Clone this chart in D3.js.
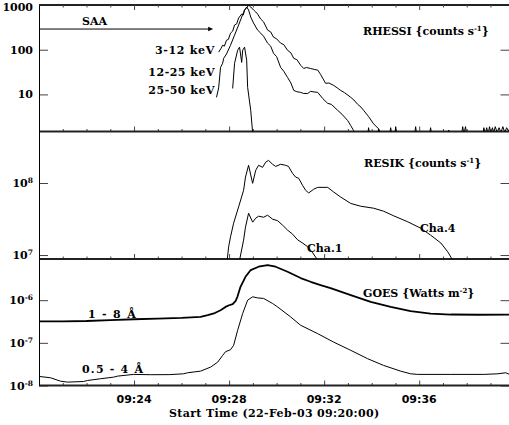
<!DOCTYPE html>
<html>
<head>
<meta charset="utf-8">
<script src="https://cdn.jsdelivr.net/npm/d3@7"></script>
<style>
  body { margin: 0; background: #fff; }
  text { font-family: "DejaVu Serif", serif; font-weight: bold; fill: #000; }
</style>
</head>
<body>
<script>
// time is minutes after 09:20:00
var minutesMax = 19.8;
var xTickMinutes = [4, 8, 12, 16];
var xTickLabels = ["09:24", "09:28", "09:32", "09:36"];
var xMinorMinutes = [1, 2, 3, 5, 6, 7, 9, 10, 11, 13, 14, 15, 17, 18, 19];
var xTitle = "Start Time (22-Feb-03 09:20:00)";

// RHESSI counts s-1
var rhessiTicks = [10, 100, 1000];
var rhessiTickLabels = ["10", "100", "1000"];
var saaEnd = 7.33, saaLevel = 290;

var rhessiLoT = [7.56, 7.65, 7.73, 7.8, 7.89, 7.97, 8.06, 8.15, 8.23, 8.32, 8.4, 8.53, 8.6, 8.65, 8.74, 8.82,
  8.91, 9.03, 9.12, 9.2, 9.33, 9.45, 9.62, 9.75, 9.87, 10.0, 10.17, 10.3, 10.46, 10.6, 10.72, 10.85, 11.01,
  11.14, 11.25, 11.43, 11.6, 11.73, 11.85, 11.94, 12.06, 12.2, 12.4, 12.55, 12.69, 12.85, 13.12, 13.25,
  13.41, 13.55, 13.66, 13.87, 14.08, 14.29, 14.42, 14.75, 14.8, 14.85, 14.97, 15.01, 15.06, 15.8, 15.85,
  15.9, 16.43, 16.48, 16.53, 17.19, 17.24, 17.29, 17.78, 17.83, 17.88, 17.95, 18.0, 18.68, 18.72, 18.78,
  18.84, 18.9, 18.96, 19.02, 19.08, 19.14, 19.2, 19.28, 19.36, 19.44, 19.52, 19.6, 19.68, 19.76, 19.8];
var rhessiLo = [88, 105, 126, 120, 163, 170, 235, 260, 356, 380, 511, 628, 600, 773, 857, 1000,
  902, 773, 700, 628, 485, 420, 274, 250, 191, 175, 140, 130, 97, 85, 64, 60, 45,
  38, 40, 38, 36, 35, 28, 23, 17.7, 18, 15.9, 14, 12.3, 11, 8.6, 7.5,
  6.0, 5.2, 4.4, 3.2, 2.2, 1.7, 1.2, 1.2, 1.8, 1.2, 1.2, 1.9, 1.2, 1.2, 1.9,
  1.2, 1.2, 1.8, 1.2, 1.2, 1.6, 1.2, 1.2, 1.9, 1.3, 1.9, 1.2, 1.2, 1.8, 1.3,
  1.8, 1.3, 1.9, 1.3, 1.8, 1.4, 1.9, 1.4, 1.8, 1.4, 1.9, 1.4, 1.8, 1.5, 1.7];

var rhessiMidT = [7.47, 7.56, 7.64, 7.73, 7.77, 7.89, 8.06, 8.23, 8.4, 8.53, 8.65, 8.74, 8.82, 8.91, 9.03,
  9.2, 9.33, 9.45, 9.62, 9.75, 9.87, 10.0, 10.17, 10.3, 10.46, 10.6, 10.72, 10.85, 11.01, 11.14, 11.31,
  11.43, 11.6, 11.73, 11.94, 12.15, 12.3, 12.57, 12.75, 12.99, 13.12, 13.24, 13.3, 13.83, 13.87, 13.92,
  14.25, 14.29, 14.34, 15.0];
var rhessiMid = [8.6, 14, 40, 50, 64, 80, 126, 212, 356, 537, 773, 902, 773, 537, 394,
  274, 235, 200, 140, 120, 83, 70, 40, 33, 24, 18, 12.3, 11.5, 11.1, 10.5, 10.5,
  11.7, 11.3, 11.1, 8.1, 6.3, 6.0, 4.4, 3.6, 2.6, 2.0, 1.55, 1.2, 1.2, 1.8, 1.2,
  1.2, 1.7, 1.2, 1.2];

var rhessiHiT = [8.15, 8.23, 8.36, 8.44, 8.53, 8.57, 8.65, 8.74, 8.78, 8.91, 8.99];
var rhessiHi = [13.6, 49.8, 97, 114, 52, 97, 114, 58, 14.4, 4.4, 1.4];

// RESIK counts s-1
var resikTicks = [1e7, 1e8];
var resikTickExp = ["7", "8"];
var cha4T = [7.92, 7.98, 8.06, 8.19, 8.4, 8.61, 8.69, 8.82, 8.99, 9.12, 9.24, 9.41, 9.54, 9.66, 9.83, 9.96,
  10.17, 10.38, 10.5, 10.67, 10.8, 10.93, 11.09, 11.22, 11.35, 11.56, 11.73, 12.15, 12.4, 12.69, 13.12,
  13.54, 14.08, 14.5, 14.93, 15.52, 16.06, 16.48, 16.91, 17.2, 17.41];
var cha4 = [8.5e6, 1.3e7, 1.79e7, 2.77e7, 4.66e7, 7.93e7, 1.21e8, 1.76e8, 9.9e7, 1.5e8, 1.76e8, 1.65e8,
  1.95e8, 2.06e8, 1.82e8, 1.7e8, 1.82e8, 1.76e8, 1.7e8, 1.36e8, 1.21e8, 1.16e8, 9.3e7, 7.93e7, 7.28e7,
  8.2e7, 8.7e7, 8.7e7, 7.5e7, 6.4e7, 5.2e7, 4.76e7, 4.47e7, 4.06e7, 3.5e7, 2.89e7, 2.36e7, 1.89e7,
  1.47e7, 1.11e7, 8.5e6];
var cha1T = [8.44, 8.61, 8.69, 8.82, 8.99, 9.12, 9.24, 9.45, 9.62, 9.83, 10.04, 10.25, 10.46, 10.67,
  10.88, 11.09, 11.31, 11.52, 11.73];
var cha1 = [8.5e6, 1.61e7, 2.44e7, 3.81e7, 2.86e7, 3.25e7, 3.46e7, 3.35e7, 3.57e7, 3.15e7, 3.0e7,
  2.6e7, 2.22e7, 1.95e7, 1.63e7, 1.47e7, 1.3e7, 1.07e7, 8.5e6];

// GOES Watts m-2
var goesTicks = [1e-8, 1e-7, 1e-6];
var goesTickExp = ["-8", "-7", "-6"];
var goesLongT = [0, 1, 2, 3, 4, 5, 6, 6.8, 7.1, 7.4, 7.64, 7.85, 8.0, 8.15, 8.27, 8.35, 8.48, 8.69, 8.91,
  9.24, 9.62, 9.96, 10.46, 11.01, 11.43, 11.85, 12.27, 13.12, 13.96, 14.8, 15.64, 16.48, 17.33, 18.5, 19.8];
var goesLong = [3.2e-7, 3.2e-7, 3.25e-7, 3.4e-7, 3.57e-7, 3.7e-7, 3.84e-7, 4.05e-7, 4.44e-7, 5.0e-7,
  5.82e-7, 6.95e-7, 7.6e-7, 8.05e-7, 9.5e-7, 1.2e-6, 2.06e-6, 3.53e-6, 5.08e-6, 6.08e-6, 6.67e-6,
  6.08e-6, 4.63e-6, 3.3e-6, 2.7e-6, 2.25e-6, 1.92e-6, 1.31e-6, 9.12e-7, 6.95e-7, 5.51e-7, 4.86e-7,
  4.61e-7, 4.55e-7, 4.6e-7];
var goesShortT = [0, 0.48, 0.91, 1.2, 1.87, 2.04, 2.59, 3.14, 3.31, 3.98, 4.69, 5.5, 6.08, 6.25, 6.8, 7.22,
  7.52, 7.73, 7.85, 8.06, 8.19, 8.36, 8.57, 8.78, 8.99, 9.2, 9.45, 9.83, 10.04, 10.59, 11.01, 11.73, 12.4,
  13.12, 13.83, 14.5, 15.22, 15.64, 15.94, 17.33, 18.72, 19.31, 19.64, 19.8];
var goesShort = [1.63e-8, 1.52e-8, 1.26e-8, 1.2e-8, 1.24e-8, 1.31e-8, 1.44e-8, 1.57e-8, 1.66e-8, 1.82e-8,
  1.79e-8, 1.8e-8, 1.88e-8, 1.99e-8, 2.17e-8, 2.7e-8, 3.53e-8, 5.08e-8, 6.2e-8, 6.9e-8, 8.73e-8, 1.97e-7,
  4.86e-7, 1.0e-6, 1.2e-6, 1.13e-6, 1.1e-6, 8.36e-7, 6.95e-7, 4.05e-7, 2.58e-7, 1.64e-7, 1.04e-7, 6.67e-8,
  4.25e-8, 2.96e-8, 2.17e-8, 1.88e-8, 1.82e-8, 1.82e-8, 1.82e-8, 1.88e-8, 1.99e-8, 1.82e-8];

var W = 509, H = 425;
var L = 39, R = 509.5;

var svg = d3.select("body").append("svg")
    .attr("width", W)
    .attr("height", H);

var x = d3.scaleLinear().domain([0, minutesMax]).range([L, R]);

function makePanel(id, top, bottom, domain, ticks) {
  var y = d3.scaleLog().domain(domain).range([bottom, top]);

  svg.append("clipPath").attr("id", id)
    .append("rect")
    .attr("x", L).attr("y", top)
    .attr("width", R - L).attr("height", bottom - top);

  // y ticks, both sides, pointing in
  var gl = svg.append("g").attr("transform", "translate(" + L + ",0)")
    .call(d3.axisLeft(y).tickValues(ticks).tickSize(-9).tickFormat(""));
  var gr = svg.append("g").attr("transform", "translate(" + R + ",0)")
    .call(d3.axisRight(y).tickValues(ticks).tickSize(-9).tickFormat(""));
  // x ticks on the bottom edge, pointing up
  var gb = svg.append("g").attr("transform", "translate(0," + bottom + ")")
    .call(d3.axisBottom(x).tickValues(xTickMinutes).tickSize(-5).tickFormat(""));
  var gm = svg.append("g").attr("transform", "translate(0," + bottom + ")")
    .call(d3.axisBottom(x).tickValues(xMinorMinutes).tickSize(-2.5).tickFormat(""));
  [gl, gr, gb, gm].forEach(function (g) {
    g.select(".domain").remove();
    g.selectAll("line").attr("stroke", "#444");
  });

  // frame
  svg.append("line").attr("x1", L).attr("x2", R).attr("y1", bottom).attr("y2", bottom)
    .attr("stroke", "#222").attr("stroke-width", 2);
  svg.append("line").attr("x1", L + 0.5).attr("x2", L + 0.5).attr("y1", top).attr("y2", bottom)
    .attr("stroke", "#000").attr("stroke-width", 1);

  return y;
}

function drawSeries(y, id, ts, vs, width) {
  var line = d3.line().x(function (d) { return x(d[0]); }).y(function (d) { return y(d[1]); });
  svg.append("path")
    .datum(d3.zip(ts, vs))
    .attr("clip-path", "url(#" + id + ")")
    .attr("fill", "none")
    .attr("stroke", "#000")
    .attr("stroke-width", width)
    .attr("stroke-linejoin", "round")
    .attr("d", line);
}

function powLabel(y, v, exp) {
  var t = svg.append("text")
    .attr("x", 33).attr("y", y(v) + 4)
    .attr("text-anchor", "end")
    .style("font-size", "11px");
  t.append("tspan").text("10");
  t.append("tspan").attr("dy", -4).style("font-size", "7.5px").text(exp);
}

function label(px, py, str, sup, after, anchor, spacing) {
  var t = svg.append("text")
    .attr("x", px).attr("y", py)
    .attr("text-anchor", anchor || "start")
    .style("font-size", "11px")
    .style("letter-spacing", (spacing || 0) + "px");
  t.append("tspan").text(str);
  if (sup) {
    t.append("tspan").attr("dy", -4).style("font-size", "7px").text(sup);
    t.append("tspan").attr("dy", 4).text(after);
  }
}

// ---- RHESSI panel
var yR = makePanel("clipR", 5, 131.5, [1.48, 1000], rhessiTicks);
svg.append("line").attr("x1", L).attr("x2", R).attr("y1", 5).attr("y2", 5)
  .attr("stroke", "#222").attr("stroke-width", 2);
var gt = svg.append("g").attr("transform", "translate(0,5)")
  .call(d3.axisTop(x).tickValues(xTickMinutes).tickSize(-5).tickFormat(""));
var gtm = svg.append("g").attr("transform", "translate(0,5)")
  .call(d3.axisTop(x).tickValues(xMinorMinutes).tickSize(-2.5).tickFormat(""));
[gt, gtm].forEach(function (g) {
  g.select(".domain").remove();
  g.selectAll("line").attr("stroke", "#444");
});

rhessiTicks.forEach(function (v, i) {
  svg.append("text").attr("x", 33).attr("y", Math.max(yR(v) + 4, 11))
    .attr("text-anchor", "end").style("font-size", "11px")
    .text(rhessiTickLabels[i]);
});

drawSeries(yR, "clipR", rhessiLoT, rhessiLo, 1);
drawSeries(yR, "clipR", rhessiMidT, rhessiMid, 1);
drawSeries(yR, "clipR", rhessiHiT, rhessiHi, 1);

// SAA arrow
svg.append("line")
  .attr("x1", L).attr("x2", x(saaEnd) - 3)
  .attr("y1", yR(saaLevel)).attr("y2", yR(saaLevel))
  .attr("stroke", "#000").attr("stroke-width", 1);
svg.append("path")
  .attr("d", "M" + x(saaEnd) + "," + yR(saaLevel) + "l-5,-2.2v4.4z")
  .attr("fill", "#000");
label(82, 25, "SAA");
label(215, 54, "3-12 keV", null, null, "end", 0.7);
label(215, 76, "12-25 keV", null, null, "end", 0.5);
label(215, 94, "25-50 keV", null, null, "end", 0.5);
label(363, 35, "RHESSI {counts s", "-1", "}");

// ---- RESIK panel
var yS = makePanel("clipS", 131.5, 259, [8.81e6, 5.19e8], resikTicks);
resikTicks.forEach(function (v, i) { powLabel(yS, v, resikTickExp[i]); });
drawSeries(yS, "clipS", cha4T, cha4, 1);
drawSeries(yS, "clipS", cha1T, cha1, 1);
label(364, 167, "RESIK {counts s", "-1", "}");
label(420, 232, "Cha.4");
label(307, 252, "Cha.1");

// ---- GOES panel
var yG = makePanel("clipG", 259, 385.5, [1e-8, 9.23e-6], goesTicks);
goesTicks.forEach(function (v, i) { powLabel(yG, v, goesTickExp[i]); });
drawSeries(yG, "clipG", goesLongT, goesLong, 1.8);
drawSeries(yG, "clipG", goesShortT, goesShort, 1);
label(363, 297, "GOES {Watts m", "-2", "}");
label(88, 317.5, "1 - 8 \u00c5", null, null, "start", 1.3);
label(82, 373, "0.5 - 4 \u00c5", null, null, "start", 1.2);

// x labels
xTickMinutes.forEach(function (m, i) {
  svg.append("text").attr("x", x(m)).attr("y", 403)
    .attr("text-anchor", "middle")
    .style("font-family", "'DejaVu Sans', sans-serif")
    .style("font-size", "11px")
    .text(xTickLabels[i]);
});
svg.append("text").attr("x", (L + R) / 2).attr("y", 417)
  .attr("text-anchor", "middle").style("font-size", "11px")
  .style("letter-spacing", "0.35px")
  .text(xTitle);
</script>
</body>
</html>
